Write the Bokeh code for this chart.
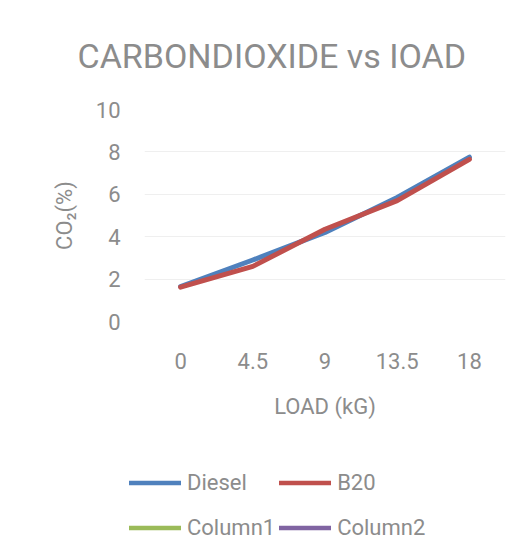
from bokeh.plotting import figure
from bokeh.layouts import column
from bokeh.models import Range1d, FactorRange, FixedTicker, Legend, LegendItem
from bokeh.embed import file_html
from bokeh.resources import INLINE

nan = float("nan")

# ---- data ----
loads = ["0", "4.5", "9", "13.5", "18"]
diesel = [1.65, 2.9, 4.2, 5.85, 7.75]
b20 = [1.62, 2.6, 4.35, 5.7, 7.65]
column1 = [nan, nan, nan, nan, nan]   # empty series (blank cells)
column2 = [nan, nan, nan, nan, nan]   # empty series (blank cells)
y_ticks = [0, 2, 4, 6, 8, 10]

series_names = ["Diesel", "B20", "Column1", "Column2"]
series_colors = ["#4F81BD", "#C0504D", "#9BBB59", "#8064A2"]

title_text = "CARBONDIOXIDE  vs IOAD"
x_label = "LOAD (kG)"
y_label = "CO\u2082(%)"

FONT = "Roboto"
TXT = "#8c8c8c"
W = 509

p = figure(width=W, height=455, output_backend="svg", toolbar_location=None,
           x_range=FactorRange(*loads, range_padding=0), y_range=Range1d(0, 10),
           min_border_left=144, min_border_right=4, min_border_top=109,
           min_border_bottom=134)
p.frame_align = False
p.outline_line_color = None
p.background_fill_color = "white"
p.border_fill_color = "white"

p.title.text = title_text
p.title.text_font = FONT
p.title.text_font_size = "34px"
p.title.text_font_style = "normal"
p.title.text_color = TXT
p.title.align = "left"
p.title.offset = -67
p.title.standoff = 67

series = [diesel, b20, column1, column2]
for vals, col in zip(series, series_colors):
    p.line(x=loads, y=vals, line_color=col, line_width=5,
           line_cap="round", line_join="round")

p.yaxis.ticker = FixedTicker(ticks=y_ticks)
for ax in (p.xaxis[0], p.yaxis[0]):
    ax.axis_line_color = None
    ax.major_tick_line_color = None
    ax.minor_tick_line_color = None
    ax.major_tick_out = 0
    ax.major_label_text_font = FONT
    ax.major_label_text_font_size = "22px"
    ax.major_label_text_color = TXT
    ax.axis_label_text_font = FONT
    ax.axis_label_text_font_size = "22px"
    ax.axis_label_text_font_style = "normal"
    ax.axis_label_text_color = TXT

p.yaxis.axis_label = y_label
p.yaxis.major_label_standoff = 24
p.yaxis.axis_label_standoff = 16
p.xaxis.axis_label = x_label
p.xaxis.major_label_standoff = 31
p.xaxis.axis_label_standoff = 22

p.xgrid.grid_line_color = None
p.ygrid.grid_line_color = "#efefef"
p.ygrid.grid_line_width = 1

# ---- legend strip below the chart ----
lg = figure(width=W, height=95, output_backend="svg", toolbar_location=None,
            x_axis_type=None, y_axis_type=None,
            x_range=Range1d(0, 1), y_range=Range1d(0, 1),
            min_border=0)
lg.frame_align = False
lg.outline_line_color = None
lg.grid.visible = False
items = []
for name, col in zip(series_names, series_colors):
    r = lg.line(x=[nan], y=[nan], line_color=col, line_width=4.5,
                line_cap="round", line_join="round")
    items.append(LegendItem(label=name, renderers=[r]))

legend = Legend(items=items, orientation="horizontal", ncols=2, location=(129, 2),
                glyph_width=52, glyph_height=41, label_height=41,
                label_standoff=6, spacing=4, padding=0, margin=0,
                label_text_font=FONT, label_text_font_size="22px",
                label_text_color=TXT, border_line_color=None,
                background_fill_alpha=0)
lg.add_layout(legend)

layout = column(p, lg, spacing=0)
open("out.html", "w").write(file_html(layout, INLINE))
